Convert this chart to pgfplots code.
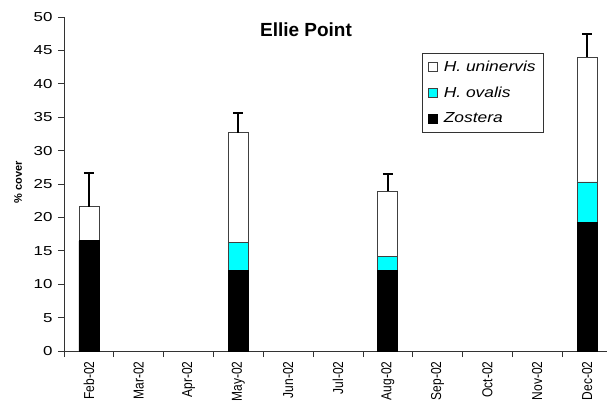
\documentclass[border=0pt]{standalone}
\usepackage{fontspec}
\setmainfont{Liberation Sans}
\usepackage{pgfplots}
\pgfplotsset{compat=1.18}
\usetikzlibrary{calc}
\definecolor{aqua}{RGB}{0,255,255}
\newcommand{\xlab}[1]{\scalebox{1}[1.2]{#1}}
\newcommand{\leglab}[1]{\scalebox{1.2}[1]{\textit{#1}}}
\begin{document}
\begin{tikzpicture}
\begin{axis}[
  scale only axis,
  width=548pt, height=334pt,
  xmin=-0.5, xmax=10.5,
  ymin=0, ymax=50,
  axis x line*=bottom, axis y line*=left,
  axis line style={black!80, line width=0.8pt},
  tick align=outside,
  major tick length=6pt,
  tick style={black!80, line width=0.8pt},
  ytick={0,5,...,50},
  /pgf/number format/assume math mode=true,
  yticklabel={\scalebox{1.3}[1]{\pgfmathprintnumber{\tick}}},
  yticklabel style={font=\fontsize{13}{13}\selectfont, xshift=-2pt},
  xtick={-0.5,0.5,1.5,2.5,3.5,4.5,5.5,6.5,7.5,8.5,9.5,10.5},
  x tick label as interval,
  xticklabels={\xlab{Feb-02},\xlab{Mar-02},\xlab{Apr-02},\xlab{May-02},\xlab{Jun-02},\xlab{Jul-02},\xlab{Aug-02},\xlab{Sep-02},\xlab{Oct-02},\xlab{Nov-02},\xlab{Dec-02}},
  xticklabel style={rotate=90, anchor=east, font=\fontsize{12}{12}\selectfont, xshift=-1pt},
  ylabel={\textbf{\% cover}},
  ylabel style={at={(axis description cs:-0.0839,0.506)}, anchor=center, font=\fontsize{11}{11}\selectfont},
  title={Ellie Point},
  title style={at={(axis description cs:0.4416,0.943)}, anchor=center, font=\bfseries\fontsize{19}{19}\selectfont},
  ybar, bar width=20pt, bar shift=0pt,
  legend style={at={(axis description cs:0.653,0.892)}, anchor=north west, draw=black!80, line width=0.6pt,
    font=\fontsize{14.5}{14.5}\selectfont, row sep=10pt, inner sep=5.5pt, cells={anchor=west}},
  legend image code/.code={\draw[#1, line width=0.5pt] (1.5pt,-4.5pt) rectangle (10.5pt,4.5pt);\path (15pt,0pt);},
]
\addplot[fill=white, draw=black!75, line width=0.8pt,
  error bars/.cd, y dir=plus, y explicit,
  error bar style={line width=2pt, black},
  error mark options={rotate=90, mark size=5pt, line width=2pt, black}]
  coordinates {(0,21.6) +- (0,5.1) (3,32.7) +- (0,3.0) (6,23.9) +- (0,2.6) (10,44.0) +- (0,3.4)};
\addlegendentry{\leglab{H. uninervis}}
\addplot[fill=aqua, draw=black!75, line width=0.8pt]
  coordinates {(3,16.2) (6,14.2) (10,25.3)};
\addlegendentry{\leglab{H. ovalis}}
\addplot[fill=black, draw=black, line width=0.8pt]
  coordinates {(0,16.5) (3,12.1) (6,12.1) (10,19.3)};
\addlegendentry{\leglab{Zostera}}
\end{axis}
\pgfresetboundingbox
\path[use as bounding box] ($(current axis.south west)+(-64pt,-54pt)$) rectangle ($(current axis.south west)+(543pt,351pt)$);
\end{tikzpicture}
\end{document}
